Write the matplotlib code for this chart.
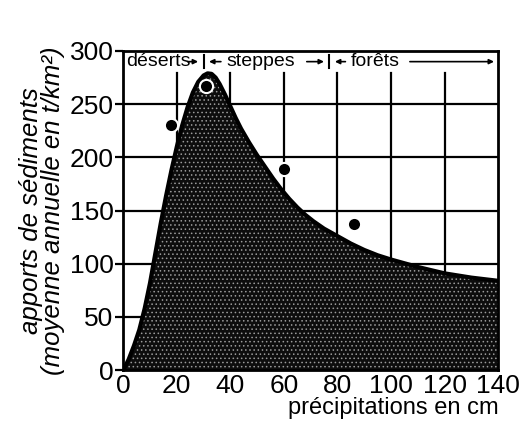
import numpy as np
import matplotlib.pyplot as plt

# Curve (precipitation cm, sediment yield t/km2)
curve_x = [0, 2, 4, 6, 8, 10, 12, 14, 16, 18, 20, 22, 24, 26, 28, 30,
           31.5, 33, 34.5, 36, 38, 40, 42, 44, 47, 50, 53, 56, 59, 62, 65, 68, 71,
           75, 80, 85, 90, 95, 100, 110, 120, 130, 140]
curve_y = [0, 10, 23, 38, 58, 82, 110, 138, 164, 188, 210, 230, 247, 261, 271, 277,
           279, 278.5, 275, 269, 259, 248, 237, 227, 214, 202, 191, 180, 170, 161, 153, 146, 140,
           133, 126, 119, 113, 108, 104, 97, 91, 87, 84]

# Measured points
pts_x = [18, 31, 60, 86]
pts_y = [230, 267, 189, 137]

xticks = [0, 20, 40, 60, 80, 100, 120, 140]
yticks = [0, 50, 100, 150, 200, 250, 300]

plt.rcParams['font.family'] = ['Liberation Sans', 'DejaVu Sans']
plt.rcParams['hatch.linewidth'] = 0.6

fig = plt.figure(figsize=(5.2, 4.25), dpi=100)
ax = fig.add_axes([0.237, 0.129, 0.721, 0.751])

# grid
for gy in yticks[1:-1]:
    ax.plot([0, 140], [gy, gy], color='black', lw=1.6, zorder=1)
for gx in xticks[1:-1]:
    ax.plot([gx, gx], [0, 279], color='black', lw=1.6, zorder=1)

# dark stippled area under the curve
ax.fill_between(curve_x, curve_y, 0, facecolor='#0d0d0d', edgecolor='#9a9a9a',
                hatch='....', lw=0, zorder=2)
ax.plot(curve_x, curve_y, color='black', lw=3, solid_joinstyle='round', zorder=3)

# points, with a white halo so the one on the dark peak stays visible
ax.plot(pts_x, pts_y, 'o', color='white', ms=11, mew=0, zorder=4)
ax.plot(pts_x, pts_y, 'o', color='black', ms=8, mew=0, zorder=5)

# vegetation band
band = dict(fontsize=14, family=['Liberation Sans Narrow', 'Liberation Sans', 'DejaVu Sans'],
            va='center', color='black', zorder=5)
yb = 290
ax.text(1.0, yb, 'déserts', ha='left', **band)
ax.text(38.5, yb, 'steppes', ha='left', **band)
ax.text(85, yb, 'forêts', ha='left', **band)
arrow = dict(arrowstyle='-|>', color='black', lw=1.2, mutation_scale=7)
ax.annotate('', xy=(29, yb), xytext=(23, yb), arrowprops=arrow)
ax.annotate('', xy=(31, yb), xytext=(37.5, yb), arrowprops=arrow)
ax.annotate('', xy=(76, yb), xytext=(67.5, yb), arrowprops=arrow)
ax.annotate('', xy=(78, yb), xytext=(84, yb), arrowprops=arrow)
ax.annotate('', xy=(139.5, yb), xytext=(106, yb), arrowprops=arrow)
ax.plot([30, 30], [yb - 6, yb + 6], color='black', lw=1.5)
ax.plot([77, 77], [yb - 6, yb + 6], color='black', lw=1.5)

ax.set_xlim(0, 140)
ax.set_ylim(0, 300)
ax.set_xticks(xticks)
ax.set_yticks(yticks)
ax.tick_params(axis='x', length=0, labelsize=19, pad=3)
ax.tick_params(axis='y', length=6, width=1.6, labelsize=19, pad=1)
for s in ax.spines.values():
    s.set_linewidth(2)

ax.set_xlabel('précipitations en cm', fontsize=17, loc='right', labelpad=-1)
ax.set_ylabel('apports de sédiments\n(moyenne annuelle en t/km²)', fontsize=18.5,
              style='italic', linespacing=0.9, labelpad=3)

fig.savefig('out.png', dpi=100)
